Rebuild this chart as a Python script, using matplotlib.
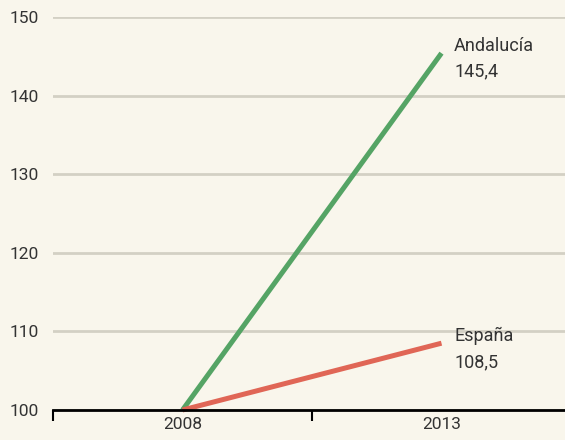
import matplotlib.pyplot as plt

# Datos
years = ['2008', '2013']
andalucia = [100, 145.4]
espana = [100, 108.5]
labels = ['Andalucía\n145,4', 'España\n108,5']

bg = '#f9f6ec'
green = '#55a465'
red = '#e06656'

plt.rcParams['font.family'] = ['Roboto', 'DejaVu Sans']

fig = plt.figure(figsize=(5.65, 4.40), dpi=100, facecolor=bg)
ax = fig.add_axes([53 / 565, 30 / 440, 518 / 565, 393 / 440])
ax.set_facecolor(bg)

x = range(len(years))
ax.plot(x, andalucia, color=green, lw=3.6, solid_capstyle='butt', zorder=3, clip_on=False)
ax.plot(x, espana, color=red, lw=3.6, solid_capstyle='butt', zorder=3, clip_on=False)

for vals, lab in zip([andalucia, espana], labels):
    ax.annotate(lab, (1, vals[-1]), xytext=(9, -4), textcoords='offset points',
                ha='left', va='center', fontsize=13, color='#333333', linespacing=1.58)

ax.set_xlim(-0.5, 1.5)
ax.set_ylim(100, 150)
ax.set_yticks(range(100, 151, 10))
ax.yaxis.grid(True, color='#d3d0c4', lw=2)
ax.set_axisbelow(True)

ax.set_xticks([0, 1])
ax.set_xticklabels(years)
ax.set_xticks([-0.5, 0.5], minor=True)
ax.tick_params(axis='x', which='major', length=0, pad=5, labelsize=12.5, labelcolor='#333333')
ax.tick_params(axis='x', which='minor', length=8, width=1.5, color='black')
ax.tick_params(axis='y', length=0, pad=10, labelsize=12.5, labelcolor='#333333')

for s in ['top', 'right', 'left']:
    ax.spines[s].set_visible(False)
ax.spines['bottom'].set_linewidth(2)
ax.spines['bottom'].set_zorder(4)

fig.savefig('out.png', dpi=100, facecolor=bg)
